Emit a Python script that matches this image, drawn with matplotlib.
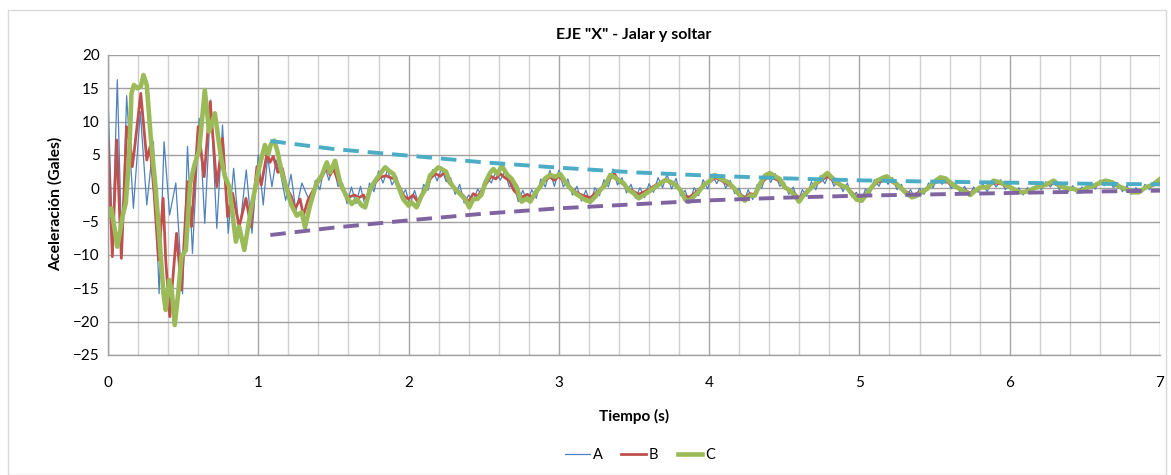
import numpy as np
import matplotlib
matplotlib.use("Agg")
import matplotlib.pyplot as plt
from matplotlib.patches import Rectangle

# ---------------- data ----------------
title = 'EJE "X" - Jalar y soltar'
xlabel = "Tiempo (s)"
ylabel = "Aceleración (Gales)"
series_names = ["A", "B", "C"]

# Series A (blue) - early part read at extremes
A_t_early = [0, 0.03, 0.062, 0.092, 0.124, 0.169, 0.215, 0.258, 0.302, 0.34, 0.373, 0.41,
             0.451, 0.496, 0.529, 0.562, 0.607, 0.644, 0.684, 0.724, 0.762, 0.8, 0.836,
             0.873, 0.92, 0.958, 1.0, 1.033, 1.062, 1.091, 1.118, 1.15, 1.182, 1.218,
             1.25, 1.29]
A_y_early = [13.8, -8.0, 16.3, -9.5, 13.9, -3.0, 11.5, -2.5, 7.0, -15.8, 7.0, -4.0,
             0.8, -15.8, 6.3, -9.75, 10.5, -5.25, 13.25, -6.0, 9.5, -6.75, 3.0,
             -6.75, 2.75, -6.75, 5.0, -2.5, 4.75, 0.25, 4.25, 2.0, -1.8, 2.1,
             -3.4, 0.8]
# Series A later part: samples every 0.03 s starting at 1.35 s
A_start_late = 1.35
A_step_late = 0.03
A_y_late = [
    -2.4, 1.2, -0.2, 3.5, 1.2, 3.6, 0.3, 0.8, -2.3, 0.2,
    -2.3, 0.3, -2.6, 0.8, -0.5, 2.6, 0.8, 2.8, 0.5, 1.8,
    -1.3, -0.2, -2.5, -0.3, -2.6, 0.6, -0.3, 2.8, 1.1, 3.0,
    1.0, 1.6, -0.9, 0.6, -2.2, -1.0, -1.9, -0.1, -1.2, 1.8,
    0.8, 2.5, 1.2, 2.6, 0.2, 0.7, -2.0, -0.3, -2.0, -0.2,
    -1.5, 1.4, 0.2, 2.7, 0.3, 2.7, 0.2, 1.4, -1.0, 0.3,
    -1.9, -0.3, -2.3, 0.1, -1.1, 1.3, 0.2, 2.9, 0.5, 1.6,
    -0.7, 0.6, -1.5, 0.1, -1.4, 0.7, -0.6, 1.6, 0.1, 2.1,
    -0.1, 1.5, -1.1, -0.3, -2.2, 0.1, -1.1, 1.3, -0.1, 2.1,
    0.7, 2.0, 0.0, 1.2, -0.8, 0.0, -2.0, -0.2, -1.7, 0.6,
    0.0, 2.3, 0.9, 2.2, 0.3, 0.9, -0.9, 0.2, -2.1, -0.2,
    -1.2, 1.0, -0.2, 1.9, 0.7, 2.3, 0.3, 1.3, -0.5, 0.8,
    -1.3, -0.6, -2.1, -0.1, -0.8, 1.3, 0.3, 1.9, 0.6, 1.6,
    -0.2, 0.6, -1.2, -0.2, -1.5, 0.0, -0.9, 0.8, 0.1, 1.6,
    0.6, 1.6, 0.0, 0.8, -0.7, 0.3, -1.2, 0.2, -0.6, 0.7,
    -0.5, 1.2, 0.2, 1.3, -0.2, 0.6, -0.6, 0.1, -1.0, 0.1,
    -0.6, 0.6, -0.2, 1.0, 0.2, 1.2, -0.2, 0.6, -0.5, 0.4,
    -0.8, 0.2, -0.5, 0.7, -0.1, 1.2, 0.4, 1.3, 0.1, 0.8,
    -0.5, 0.4, -0.9, 0.1, -0.7, 0.6, -0.2, 1.0, 0.4]

# Series B (red)
B_t = [0, 0.029, 0.058, 0.089, 0.124, 0.147, 0.162, 0.178, 0.218, 0.258, 0.28, 0.307,
       0.336, 0.367, 0.384, 0.411, 0.456, 0.489, 0.507, 0.53, 0.556, 0.6, 0.64, 0.68,
       0.724, 0.762, 0.796, 0.829, 0.873, 0.918, 0.951, 0.991, 1.02, 1.058, 1.078, 1.1,
       1.13, 1.16, 1.19, 1.22, 1.244, 1.278, 1.3, 1.33, 1.36, 1.39, 1.42, 1.456, 1.478,
       1.5, 1.53, 1.56, 1.6, 1.64, 1.67, 1.7, 1.72, 1.75, 1.78, 1.81, 1.85, 1.88, 1.91,
       1.94, 1.97, 2.0, 2.03, 2.06, 2.09, 2.12, 2.15, 2.18, 2.21, 2.24, 2.27, 2.3, 2.33,
       2.36, 2.4, 2.43, 2.46, 2.49, 2.52, 2.55, 2.58, 2.61, 2.64, 2.67, 2.7, 2.73, 2.76,
       2.79, 2.82, 2.85, 2.88, 2.91, 2.94, 2.97, 3.0, 3.04, 3.08, 3.11, 3.14, 3.18, 3.21,
       3.24, 3.28, 3.31, 3.34, 3.37, 3.4, 3.43, 3.46, 3.5, 3.53, 3.56, 3.6, 3.63, 3.67,
       3.71, 3.74, 3.78, 3.81, 3.84, 3.87, 3.9, 3.93, 3.96, 4.0, 4.04, 4.08, 4.13, 4.17,
       4.2, 4.24, 4.27, 4.3, 4.34, 4.37, 4.4, 4.44, 4.47, 4.5, 4.54, 4.57, 4.6, 4.63,
       4.66, 4.69, 4.73, 4.76, 4.79, 4.82, 4.85, 4.88, 4.92, 4.95, 4.98, 5.02, 5.05,
       5.08, 5.12, 5.15, 5.18, 5.22, 5.25, 5.28, 5.32, 5.35, 5.38, 5.42, 5.45, 5.49,
       5.54, 5.57, 5.6, 5.65, 5.69, 5.74, 5.77, 5.8, 5.85, 5.89, 5.94, 5.98, 6.03, 6.07,
       6.12, 6.16, 6.2, 6.25, 6.29, 6.34, 6.38, 6.43, 6.47, 6.52, 6.56, 6.6, 6.64, 6.68,
       6.73, 6.77, 6.82, 6.86, 6.9, 6.95, 7.0]
B_y = [7.25, -10.25, 7.25, -10.5, 9.25, 6.75, 3.25, 6.25, 14.25, 4.25, 6.25, -0.75,
       -10.75, -1.5, -10.75, -19.25, -6.75, -15.25, -7.75, 1.0, -5.75, 9.25, 1.75, 13.0,
       0.25, 7.5, -4.25, -0.75, -5.75, -1.5, -5.75, 3.25, 0.5, 5.25, 3.9, 4.8,
       2.4, 3.0, 0.0, -1.2, -3.1, -1.6, -4.1, -1.8, -0.5, 0.6, 1.6, 3.15, 2.0,
       2.9, 1.2, -0.2, -1.35, -1.0, -1.4, -1.0, -1.85, 0.0, 0.9, 1.65, 1.9, 1.6, 1.4,
       0.2, -1.2, -1.6, -1.0, -2.0, -0.8, 0.3, 1.6, 2.2, 1.8, 2.4, 0.8, 0.2, -0.4,
       -1.0, -2.0, -0.8, -1.2, -0.2, 0.8, 1.8, 1.4, 2.2, 1.6, 1.2, -0.3, -1.0, -1.3,
       -0.9, -1.3, -0.4, 0.4, 1.2, 1.7, 1.2, 1.8, 0.9, 0.1, -0.5, -0.9, -1.2, -1.4,
       -0.8, 0.0, 0.5, 1.4, 2.2, 1.0, 0.6, 0.0, -0.5, -0.9, -0.6, -0.2, 0.3, 0.8,
       1.3, 0.8, 0.6, -0.2, -1.2, -1.3, -0.8, -0.2, 0.4, 0.9, 1.6, 1.2, 0.5, 0.0,
       -0.8, -1.4, -0.8, -0.9, 0.5, 1.3, 1.8, 1.4, 1.1, 0.1, -0.2, -0.8, -1.5, -0.8,
       -0.2, 0.3, 0.9, 1.4, 1.8, 1.2, 0.7, 0.3, 0.1, -0.6, -1.3, -1.4, -0.6,
       0.1, 0.9, 1.1, 1.4, 0.9, 0.5, -0.1, -0.6, -1.0, -0.8, -0.4, 0.0, 0.7,
       1.2, 1.1, 0.7, 0.1, -0.2, -0.7, -0.2, 0.1, 0.1, 0.8, 0.7, 0.3, -0.1, -0.5,
       -0.4, 0.0, 0.2, 0.5, 0.8, 0.2, 0.0, -0.1, -0.4, 0.1, 0.3, 0.7, 0.9, 0.7,
       0.2, -0.1, -0.4, -0.4, 0.1, 0.4, 0.9]

# Series C (green)
C_t = [0, 0.022, 0.04, 0.062, 0.08, 0.096, 0.118, 0.14, 0.156, 0.173, 0.196, 0.218,
       0.236, 0.258, 0.284, 0.318, 0.34, 0.369, 0.384, 0.407, 0.424, 0.444, 0.467,
       0.489, 0.518, 0.547, 0.575, 0.607, 0.644, 0.673, 0.711, 0.751, 0.778, 0.807,
       0.851, 0.873, 0.907, 0.951, 1.007, 1.044, 1.067, 1.084, 1.107, 1.129, 1.156,
       1.189, 1.222, 1.256, 1.289, 1.311, 1.344, 1.389, 1.422, 1.456, 1.478, 1.511,
       1.544, 1.589, 1.622, 1.656, 1.689, 1.711, 1.744, 1.778, 1.811, 1.844, 1.878,
       1.9, 1.93, 1.964, 2.0, 2.02, 2.053, 2.087, 2.12, 2.142, 2.164, 2.198, 2.22,
       2.249, 2.276, 2.309, 2.342, 2.376, 2.404, 2.431, 2.458, 2.487, 2.509, 2.542,
       2.564, 2.591, 2.62, 2.653, 2.687, 2.72, 2.742, 2.753, 2.787, 2.809, 2.842,
       2.876, 2.909, 2.942, 2.976, 3.009, 3.042, 3.076, 3.109, 3.142, 3.176, 3.209,
       3.242, 3.276, 3.309, 3.342, 3.364, 3.398, 3.431, 3.464, 3.498, 3.531, 3.564,
       3.598, 3.631, 3.676, 3.709, 3.742, 3.776, 3.809, 3.842, 3.864, 3.898, 3.931,
       3.964, 3.998, 4.038, 4.082, 4.127, 4.171, 4.204, 4.238, 4.271, 4.304, 4.338,
       4.371, 4.404, 4.438, 4.471, 4.504, 4.538, 4.571, 4.598, 4.627, 4.66, 4.693,
       4.727, 4.76, 4.787, 4.816, 4.849, 4.882, 4.916, 4.949, 4.982, 5.016, 5.049,
       5.082, 5.116, 5.149, 5.182, 5.216, 5.249, 5.282, 5.316, 5.349, 5.382, 5.416,
       5.449, 5.493, 5.538, 5.571, 5.604, 5.649, 5.693, 5.738, 5.771, 5.804, 5.849,
       5.893, 5.938, 5.982, 6.027, 6.071, 6.116, 6.16, 6.204, 6.249, 6.293, 6.338,
       6.382, 6.427, 6.471, 6.516, 6.56, 6.604, 6.638, 6.682, 6.727, 6.771, 6.816,
       6.86, 6.904, 6.949, 7.0]
C_y = [-4.25, -3.0, -5.5, -8.75, -6.5, -4.25, -2.25, 4.25, 14.25, 15.5, 15.0, 15.25,
       17.0, 15.5, 7.75, -0.25, -6.75, -15.75, -18.25, -13.75, -15.25, -20.5, -15.75,
       -10.25, -9.25, 0.75, 3.5, 5.75, 14.75, 8.5, 11.25, 4.75, 1.75, 0.25,
       -8.0, -5.75, -9.25, -3.25, 3.25, 6.5, 5.15, 6.65, 7.15, 5.4, 2.4,
       -0.1, -2.6, -4.1, -3.6, -5.85, -2.6, 0.9, 1.9, 3.9, 2.4, 4.15,
       0.9, -1.35, -2.35, -1.6, -2.6, -2.85, -0.1, 1.15, 2.15, 3.15, 2.5,
       2.15, 0.4, -1.6, -2.6, -2.1, -2.85, -1.1, 0.15, 1.9, 2.4, 3.15, 2.9,
       2.5, 0.9, -0.1, -0.85, -1.6, -2.85, -1.6, -1.6, -0.85, 0.8, 2.3,
       2.9, 2.15, 3.4, 2.15, 1.4, 0.15, -1.5, -2.0, -1.5, -2.0, -0.75,
       0.25, 1.5, 2.0, 1.75, 2.15, 1.0, 0.0, -0.75, -1.25, -1.75, -2.0,
       -1.25, -0.25, 0.5, 2.0, 1.75, 1.25, 0.75, -0.25, -0.75, -1.5, -1.0,
       -0.5, 0.0, 0.75, 1.25, 1.0, 0.5, -0.25, -1.75, -2.0, -1.25, -0.5,
       0.5, 1.0, 2.0, 1.4, 0.9, -0.1, -1.1, -1.85, -1.1, -1.1, 0.65,
       1.9, 2.3, 1.8, 1.4, 0.15, -0.35, -1.1, -2.0, -1.1, -0.35, 0.4,
       1.15, 1.8, 2.3, 1.65, 0.9, 0.4, 0.15, -0.85, -1.7, -1.85, -0.85,
       0.15, 1.15, 1.5, 1.8, 1.15, 0.65, -0.1, -0.85, -1.35, -1.1, -0.6,
       -0.1, 0.9, 1.65, 1.5, 0.9, 0.15, -0.35, -1.0, -0.35, 0.15, 0.15,
       1.15, 0.9, 0.4, -0.1, -0.6, -0.5, 0.0, 0.3, 0.65, 1.15, 0.3,
       0.0, -0.1, -0.5, 0.15, 0.4, 0.9, 1.15, 0.9, 0.3, -0.1, -0.6,
       -0.6, 0.15, 0.5, 1.4]

# Envelope trend lines (dashed)
env_t = [1.08, 1.5, 2.0, 2.5, 3.0, 3.5, 4.0, 4.5, 5.0, 5.5, 6.0, 6.5, 7.0]
env_upper = [7.1, 5.9, 4.9, 3.9, 3.1, 2.4, 1.9, 1.5, 1.2, 1.0, 0.85, 0.7, 0.6]
env_lower = [-7.0, -5.9, -4.8, -3.8, -3.0, -2.4, -1.8, -1.4, -1.1, -0.9, -0.7, -0.5, -0.35]

x_ticks = [0, 1, 2, 3, 4, 5, 6, 7]
y_ticks = [-25, -20, -15, -10, -5, 0, 5, 10, 15, 20]

# ---------------- build ----------------
A_t = list(A_t_early) + [round(A_start_late + i * A_step_late, 3) for i in range(len(A_y_late))]
A_y = list(A_y_early) + list(A_y_late)

plt.rcParams['font.family'] = ['Lato', 'DejaVu Sans']

W, H = 1171, 475
fig = plt.figure(figsize=(W / 100, H / 100), dpi=100)
fig.patch.set_facecolor('white')
fig.add_artist(Rectangle((8 / W, 0.0), (1166 - 8) / W, (H - 10) / H,
                         transform=fig.transFigure, fill=False,
                         edgecolor='#D9D9D9', linewidth=1.0))

ax = fig.add_axes([108 / W, 1 - 355 / H, (1160 - 108) / W, 300 / H])
ax.set_xlim(0, 7)
ax.set_ylim(-25, 20)

# grid
ax.set_xticks(x_ticks)
ax.set_xticks(np.arange(0, 7.01, 0.2), minor=True)
ax.set_yticks(y_ticks)
ax.grid(True, which='minor', axis='x', color='#D0D0D0', linewidth=1.0)
ax.grid(True, which='major', axis='x', color='#A6A6A6', linewidth=1.0)
ax.grid(True, which='major', axis='y', color='#A0A0A0', linewidth=1.0)
ax.set_axisbelow(True)
ax.tick_params(which='both', length=0, labelsize=11, colors='black')
ax.tick_params(axis='x', pad=15)
ax.tick_params(axis='y', pad=6)
for s in ['top', 'right']:
    ax.spines[s].set_visible(False)
for s in ['left', 'bottom']:
    ax.spines[s].set_color('#A0A0A0')
    ax.spines[s].set_linewidth(1.0)

lA, = ax.plot(A_t, A_y, color='#4F81BD', linewidth=0.9, label=series_names[0])
lB, = ax.plot(B_t, B_y, color='#C0504D', linewidth=2.0, label=series_names[1])
lC, = ax.plot(C_t, C_y, color='#9BBB59', linewidth=3.3, label=series_names[2])
ax.plot(env_t, env_upper, color='#4BACC6', linewidth=2.8, linestyle=(0, (4, 2.3)))
ax.plot(env_t, env_lower, color='#8064A2', linewidth=2.8, linestyle=(0, (4, 2.3)))

fig.text(634 / W, 1 - 35 / H, title, ha='center', va='center',
         fontsize=11.5, fontweight='bold')
fig.text(55 / W, 1 - 204 / H, ylabel, ha='center', va='center', rotation=90,
         fontsize=11.3, fontweight='bold')
fig.text(634 / W, 1 - 416 / H, xlabel, ha='center', va='center',
         fontsize=11, fontweight='bold')

leg = fig.legend(handles=[lA, lB, lC], loc='center', bbox_to_anchor=(640 / W, 1 - 455 / H),
                 ncol=3, frameon=False, fontsize=10.5, handlelength=1.7,
                 columnspacing=1.3, handletextpad=0.2)

fig.savefig('out.png', dpi=100, facecolor='white')
